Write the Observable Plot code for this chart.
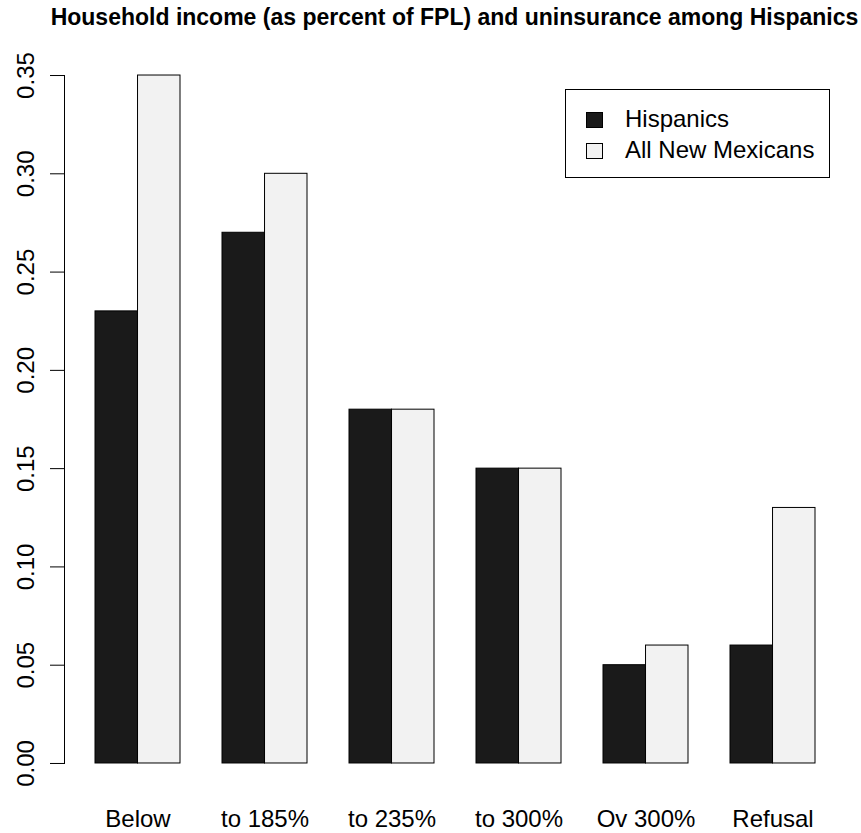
<!DOCTYPE html>
<html><head><meta charset="utf-8">
<script src="https://cdn.jsdelivr.net/npm/d3@7"></script>
<script src="https://cdn.jsdelivr.net/npm/@observablehq/plot@0.6"></script>
<style>
body{margin:0;background:#fff;font-family:Arial,"Liberation Sans",sans-serif}
#wrap{position:relative;width:861px;height:833px}
#title{position:absolute;left:0;top:3px;width:909px;text-align:center;font-weight:bold;font-size:23px;line-height:28px;color:#000;white-space:nowrap}
#legend{position:absolute;left:565px;top:89px;width:263px;height:87px;border:1px solid #000;background:#fff;font-size:24px;line-height:30px;box-sizing:content-box}
.li{position:absolute;left:59px;white-space:nowrap}
.sw{position:absolute;left:20px;width:15px;height:14px;border:1px solid #000}
</style></head><body>
<div id="wrap">
<div id="chart"></div>
<div id="title"></div>
<div id="legend"></div>
</div>
<script>
const titleText = "Household income (as percent of FPL) and uninsurance among Hispanics";
const categories = ["Below", "to 185%", "to 235%", "to 300%", "Ov 300%", "Refusal"];
const seriesNames = ["Hispanics", "All New Mexicans"];
const seriesColors = ["#1a1a1a", "#f2f2f2"];
const hispanics = [0.23, 0.27, 0.18, 0.15, 0.05, 0.06];
const allNewMexicans = [0.35, 0.30, 0.18, 0.15, 0.06, 0.13];
const yTicks = [0, 0.05, 0.10, 0.15, 0.20, 0.25, 0.30, 0.35];

const W = 861, H = 833;
const mL = 64, mR = 16, mT = 47.5, mB = 42.5;
const padIn = 1/3, padOut = 0.2275;
const band = d3.scaleBand().domain(categories).range([mL, W - mR]).paddingInner(padIn).paddingOuter(padOut);
const half = band.bandwidth() / 2;

const rowsH = categories.map((c, i) => ({cat: c, value: hispanics[i]}));
const rowsA = categories.map((c, i) => ({cat: c, value: allNewMexicans[i]}));

const yExt = (yTicks[yTicks.length-1] - yTicks[0]) * 0.04;

const chart = Plot.plot({
  width: W, height: H,
  marginLeft: mL, marginRight: mR, marginTop: mT, marginBottom: mB,
  style: {fontFamily: "Arial, 'Liberation Sans', sans-serif", fontSize: "24px", background: "transparent", color: "#000"},
  x: {type: "band", domain: categories, paddingInner: padIn, paddingOuter: padOut, align: 0.5, axis: null},
  y: {domain: [yTicks[0] - yExt, yTicks[yTicks.length-1] + yExt], axis: null},
  marks: [
    Plot.barY(rowsH, {x: "cat", y: "value", fill: seriesColors[0], stroke: "#000", strokeWidth: 1, insetLeft: 0, insetRight: half}),
    Plot.barY(rowsA, {x: "cat", y: "value", fill: seriesColors[1], stroke: "#000", strokeWidth: 1, insetLeft: half, insetRight: 0}),
    Plot.frame({anchor: "left", stroke: "#000", insetTop: 27.5, insetBottom: 27.5}),
    Plot.axisY({ticks: yTicks, tickFormat: d3.format(".2f"), tickSize: 14, tickPadding: 17, tickRotate: -90, anchor: "left", stroke: "#000", fill: "#000", fontSize: 24, label: null}),
    Plot.axisX({anchor: "bottom", tickSize: 0, tickPadding: 19, fill: "#000", fontSize: 24, label: null})
  ]
});
document.getElementById("chart").appendChild(chart);
document.getElementById("title").textContent = titleText;
const lg = document.getElementById("legend");
seriesNames.forEach((n, i) => {
  const sw = document.createElement("div");
  sw.className = "sw";
  sw.style.top = (22 + i * 31) + "px";
  sw.style.background = seriesColors[i];
  lg.appendChild(sw);
  const t = document.createElement("div");
  t.className = "li";
  t.style.top = (14 + i * 31) + "px";
  t.textContent = n;
  lg.appendChild(t);
});
</script>
</body></html>
